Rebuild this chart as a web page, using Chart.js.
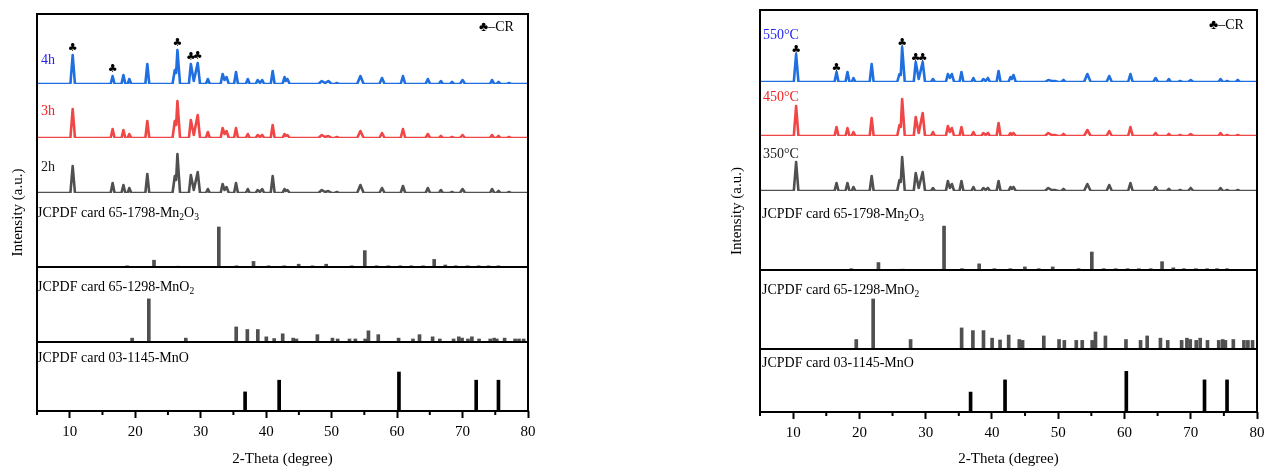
<!DOCTYPE html>
<html>
<head>
<meta charset="utf-8">
<script src="https://cdn.jsdelivr.net/npm/chart.js@4/dist/chart.umd.min.js"></script>
<style>
html,body{margin:0;padding:0;overflow:hidden;background:#fff;width:1264px;height:469px;}
#wrapL{position:absolute;left:0;top:0;width:545px;height:469px;}
#wrapR{position:absolute;left:720px;top:0;width:560px;height:469px;}
</style>
</head>
<body>
<div id="wrapL"><canvas id="cL" width="545" height="469"></canvas></div>
<div id="wrapR"><canvas id="cR" width="560" height="469"></canvas></div>
<script>
// ---------- DATA ----------
const theta = [
  5.0,
  10.1, 10.45, 10.8,
  16.25, 16.55, 16.85,
  17.9, 18.2, 18.5,
  18.85, 19.1, 19.4,
  21.55, 21.85, 22.15,
  25.7, 26.05, 26.25, 26.45, 26.85,
  28.2, 28.5, 28.95, 29.55, 29.9,
  30.8, 31.1, 31.4,
  33.05, 33.35, 33.65, 33.95, 34.3,
  35.1, 35.4, 35.7,
  36.9, 37.2, 37.5,
  38.4, 38.7, 39.05, 39.4, 39.7,
  40.7, 41.0, 41.3,
  42.5, 42.8, 43.0, 43.25, 43.6,
  48.0, 48.5, 49.0, 49.5, 50.0,
  50.5, 50.8, 51.1,
  53.9, 54.4, 54.9,
  57.3, 57.7, 58.1,
  60.55, 60.9, 61.25,
  64.35, 64.7, 65.05,
  66.4, 66.7, 67.0,
  68.1, 68.4, 68.7,
  69.6, 70.0, 70.4,
  74.2, 74.5, 74.85,
  75.2, 75.5, 75.8,
  76.8, 77.1, 77.4,
  80.0
];
const int4h = [
  0,
  0, 29, 0,
  0, 8, 0,
  0, 9, 0,
  0, 5, 0,
  0, 20, 0,
  0, 14, 11, 34, 0,
  0, 20, 3, 21, 0,
  0, 5, 0,
  0, 10, 4, 7, 0,
  0, 12, 0,
  0, 5, 0,
  0, 4, 1, 4, 0,
  0, 13, 0,
  0, 7, 3, 5, 0,
  0, 3, 1, 3, 0,
  0, 1, 0,
  0, 8, 0,
  0, 6, 0,
  0, 8, 0,
  0, 5, 0,
  0, 3, 0,
  0, 2, 0,
  0, 4, 0,
  0, 4, 0,
  0, 2, 0,
  0, 1, 0,
  0
];
const int3h = [
  0,
  0, 29, 0,
  0, 9, 0,
  0, 8, 0,
  0, 4, 0,
  0, 17, 0,
  0, 17, 13, 37, 0,
  0, 18, 3, 23, 0,
  0, 6, 0,
  0, 10, 4, 7, 0,
  0, 10, 0,
  0, 4, 0,
  0, 3, 1, 3, 0,
  0, 13, 0,
  0, 4, 2, 3, 0,
  0, 3, 1, 2, 0,
  0, 1, 0,
  0, 7, 0,
  0, 5, 0,
  0, 9, 0,
  0, 4, 0,
  0, 2, 0,
  0, 1, 0,
  0, 3, 0,
  0, 3, 0,
  0, 2, 0,
  0, 1, 0,
  0
];
const int2h = [
  0,
  0, 27, 0,
  0, 10, 0,
  0, 8, 0,
  0, 5, 0,
  0, 19, 0,
  0, 17, 13, 39, 0,
  0, 18, 3, 21, 0,
  0, 4, 0,
  0, 9, 3, 6, 0,
  0, 10, 0,
  0, 4, 0,
  0, 3, 1, 4, 0,
  0, 17, 0,
  0, 4, 2, 3, 0,
  0, 3, 1, 2, 0,
  0, 1, 0,
  0, 8, 0,
  0, 5, 0,
  0, 7, 0,
  0, 5, 0,
  0, 3, 0,
  0, 1, 0,
  0, 4, 0,
  0, 4, 0,
  0, 2, 0,
  0, 1, 0,
  0
];
const int550 = [
  0,
  0, 28, 0,
  0, 10, 0,
  0, 10, 0,
  0, 4, 0,
  0, 18, 0,
  0, 8, 7, 35, 0,
  0, 20, 3, 20, 0,
  0, 3, 0,
  0, 8, 4, 8, 0,
  0, 10, 0,
  0, 4, 0,
  0, 3, 1, 4, 0,
  0, 11, 0,
  0, 5, 3, 7, 0,
  0, 2, 1, 1, 0,
  0, 2, 0,
  0, 8, 0,
  0, 6, 0,
  0, 8, 0,
  0, 4, 0,
  0, 3, 0,
  0, 1, 0,
  0, 2, 0,
  0, 3, 0,
  0, 1, 0,
  0, 2, 0,
  0
];
const int450 = [
  0,
  0, 30, 0,
  0, 9, 0,
  0, 8, 0,
  0, 4, 0,
  0, 18, 0,
  0, 11, 9, 37, 0,
  0, 19, 3, 23, 0,
  0, 4, 0,
  0, 10, 4, 8, 0,
  0, 9, 0,
  0, 4, 0,
  0, 3, 1, 3, 0,
  0, 13, 0,
  0, 3, 1, 3, 0,
  0, 3, 1, 1, 0,
  0, 2, 0,
  0, 6, 0,
  0, 5, 0,
  0, 9, 0,
  0, 3, 0,
  0, 2, 0,
  0, 1, 0,
  0, 2, 0,
  0, 3, 0,
  0, 1, 0,
  0, 1, 0,
  0
];
const int350 = [
  0,
  0, 29, 0,
  0, 8, 0,
  0, 8, 0,
  0, 4, 0,
  0, 15, 0,
  0, 11, 9, 34, 0,
  0, 18, 3, 19, 0,
  0, 3, 0,
  0, 10, 3, 7, 0,
  0, 10, 0,
  0, 4, 0,
  0, 3, 1, 3, 0,
  0, 10, 0,
  0, 4, 2, 4, 0,
  0, 3, 1, 1, 0,
  0, 2, 0,
  0, 7, 0,
  0, 6, 0,
  0, 8, 0,
  0, 4, 0,
  0, 2, 0,
  0, 1, 0,
  0, 3, 0,
  0, 3, 0,
  0, 1, 0,
  0, 1, 0,
  0
];
const seriesLeft = ['4h', '3h', '2h'];
const seriesRight = ['550°C', '450°C', '350°C'];

// reference cards (2-theta, relative intensity %)
const mn2o3Theta = [19.0, 23.1, 26.8, 33.0, 35.7, 38.3, 40.6, 43.0, 45.2, 47.3, 49.4, 53.3, 55.3, 57.1, 58.9, 60.7, 62.4, 64.2, 65.9, 67.6, 69.2, 71.0, 72.7, 74.2, 75.7];
const mn2o3Int   = [3, 17, 2, 100, 3, 14, 3, 3, 7, 3, 7, 3, 41, 3, 3, 3, 3, 3, 19, 5, 3, 3, 3, 3, 3];
const mno2Theta  = [19.3, 21.85, 27.5, 35.2, 36.9, 38.5, 39.8, 41.0, 42.3, 43.9, 44.4, 47.6, 49.9, 50.7, 52.5, 53.4, 54.9, 55.4, 56.9, 60.0, 62.2, 63.2, 65.2, 66.3, 68.4, 69.2, 69.7, 70.6, 71.2, 72.3, 74.0, 74.6, 75.0, 76.2, 77.8, 78.4, 79.1, 79.9];
const mno2Int    = [9, 100, 9, 35, 29, 29, 12, 8, 19, 9, 7, 17, 9, 7, 7, 7, 7, 26, 17, 9, 7, 17, 12, 7, 7, 12, 9, 7, 12, 7, 7, 9, 7, 9, 7, 7, 7, 7];
const mnoTheta   = [36.1, 41.3, 59.6, 71.4, 74.8];
const mnoInt     = [49, 79, 100, 79, 79];
const cardLabels = ['JCPDF card 65-1798-Mn_2O_3', 'JCPDF card 65-1298-MnO_2', 'JCPDF card 03-1145-MnO'];

const majorTicks = [10, 20, 30, 40, 50, 60, 70, 80];
const minorTicks = [5, 15, 25, 35, 45, 55, 65, 75];
const crPeaks = [10.45, 16.55, 26.45, 28.5, 29.55];
const crLegend = '♣–CR';
const yTitle = 'Intensity (a.u.)';
const xTitle = '2-Theta (degree)';

// ---------- RENDER ----------
const SERIF = '"Liberation Serif", "Times New Roman", serif';
const lineColors = ['#1f6fe0', '#f04646', '#505050'];
const labelColors = ['#2424ee', '#f02424', '#1a1a1a'];

function pairs(xs, ys) { return xs.map((x, i) => ({x: x, y: ys[i]})); }

function drawRich(ctx, str, x, y, size) {
  const parts = str.split(/(_\d)/).filter(Boolean);
  let cx = x;
  ctx.textAlign = 'left';
  ctx.textBaseline = 'middle';
  for (const p of parts) {
    if (p[0] === '_') {
      ctx.font = (size * 0.68) + 'px ' + SERIF;
      ctx.fillText(p.slice(1), cx, y + size * 0.32);
      cx += ctx.measureText(p.slice(1)).width;
    } else {
      ctx.font = size + 'px ' + SERIF;
      ctx.fillText(p, cx, y);
      cx += ctx.measureText(p).width;
    }
  }
}

function makeDecor(cfg) {
  return {
    id: 'decor',
    afterDraw(chart) {
      const {ctx, chartArea: a, scales} = chart;
      ctx.save();
      ctx.strokeStyle = '#000';
      ctx.fillStyle = '#000';
      ctx.lineWidth = 2;
      ctx.strokeRect(a.left, a.top, a.right - a.left, a.bottom - a.top);
      [scales.c0.bottom, scales.c1.bottom].forEach(yy => {
        ctx.beginPath(); ctx.moveTo(a.left, yy); ctx.lineTo(a.right, yy); ctx.stroke();
      });
      // minor ticks
      minorTicks.forEach(v => {
        const x = scales.x.getPixelForValue(v);
        ctx.beginPath(); ctx.moveTo(x, a.bottom); ctx.lineTo(x, a.bottom + 4); ctx.stroke();
      });
      // series labels
      ctx.textAlign = 'left'; ctx.textBaseline = 'middle';
      ctx.font = '14px ' + SERIF;
      cfg.names.forEach((n, i) => {
        ctx.fillStyle = labelColors[i];
        ctx.fillText(n, cfg.labelPos[i][0], cfg.labelPos[i][1]);
      });
      // card labels
      ctx.fillStyle = '#000';
      ['c0', 'c1', 'c2'].forEach((id, i) => {
        drawRich(ctx, cardLabels[i], cfg.cardLabelX, scales[id].top + cfg.cardLabelDy[i], 14);
      });
      // legend
      ctx.font = '14px ' + SERIF;
      ctx.textAlign = 'left'; ctx.textBaseline = 'middle';
      ctx.fillText(crLegend, cfg.legendPos[0], cfg.legendPos[1]);
      // club markers on top pattern
      ctx.font = '11px "DejaVu Sans"';
      ctx.textAlign = 'center'; ctx.textBaseline = 'middle';
      crPeaks.forEach(t => {
        const idx = theta.indexOf(t);
        const x = scales.x.getPixelForValue(t);
        const y = scales.s0.getPixelForValue(cfg.series[0][idx]) - cfg.clubDy;
        ctx.fillText('♣', x, y);
      });
      // y title
      ctx.save();
      ctx.translate(cfg.yTitleX, (a.top + a.bottom) / 2);
      ctx.rotate(-Math.PI / 2);
      ctx.font = '15px ' + SERIF;
      ctx.textAlign = 'center'; ctx.textBaseline = 'middle';
      ctx.fillText(yTitle, 0, 0);
      ctx.restore();
      ctx.restore();
    }
  };
}

function makePanel(id, cfg) {
  const datasets = [];
  cfg.series.forEach((s, i) => {
    datasets.push({
      type: 'line', label: cfg.names[i], data: pairs(theta, s),
      xAxisID: 'x', yAxisID: 's' + i,
      borderColor: lineColors[i], borderWidth: 2.6, borderJoinStyle: 'round',
      pointRadius: 0, tension: 0, fill: false
    });
  });
  const cards = [[mn2o3Theta, mn2o3Int, '#505050'], [mno2Theta, mno2Int, '#505050'], [mnoTheta, mnoInt, '#000000']];
  cards.forEach((c, i) => {
    datasets.push({
      type: 'bar', label: cardLabels[i], data: pairs(c[0], c[1]),
      xAxisID: 'xc' + i, yAxisID: 'c' + i,
      backgroundColor: c[2], borderWidth: 0, barThickness: 3,
      base: cfg.cardMin[i]
    });
  });
  const scales = {
    x: {
      type: 'linear', position: 'bottom', min: 5, max: 80, offset: false,
      afterBuildTicks: (s) => { s.ticks = majorTicks.map(v => ({value: v})); },
      afterFit: (s) => { s.height = cfg.axisH; },
      ticks: {color: '#000', font: {family: SERIF, size: 15}, padding: 5, maxRotation: 0, autoSkip: false},
      grid: {display: true, drawOnChartArea: false, drawTicks: true, tickLength: 7, tickWidth: 2, tickColor: '#000', offset: false},
      border: {display: false},
      title: {display: true, text: xTitle, color: '#000', font: {family: SERIF, size: 15}, padding: {top: 0, bottom: 1}}
    }
  };
  ['xc0', 'xc1', 'xc2'].forEach(k => {
    scales[k] = {type: 'linear', position: 'bottom', min: 5, max: 80, offset: false, grid: {offset: false}, display: false};
  });
  const ids = ['s0', 's1', 's2', 'c0', 'c1', 'c2'];
  const maxes = [cfg.bands[0], cfg.bands[1], cfg.bands[2]].concat(cfg.cardMax);
  const mins = [0, 0, 0].concat(cfg.cardMin);
  ids.forEach((k, i) => {
    scales[k] = {
      type: 'linear', position: 'left', stack: 'panel', stackWeight: cfg.bands[i],
      weight: 10 - i, min: mins[i], max: maxes[i], display: false
    };
  });
  return new Chart(document.getElementById(id), {
    type: 'line',
    data: {datasets},
    options: {
      responsive: false, animation: false, devicePixelRatio: 1,
      layout: {padding: cfg.pad},
      plugins: {legend: {display: false}, tooltip: {enabled: false}},
      scales
    },
    plugins: [makeDecor(cfg)]
  });
}

makePanel('cL', {
  pad: {left: 37, right: 17, top: 14, bottom: 0},
  axisH: 58,
  bands: [70, 54, 55, 74, 75, 69],
  cardMax: [185, 174, 177], cardMin: [0, 0, 0],
  series: [int4h, int3h, int2h], names: seriesLeft,
  labelPos: [[41, 60], [41, 111], [41, 167]],
  cardLabelX: 37, cardLabelDy: [20, 20, 16],
  clubDy: 7, legendPos: [479, 27], yTitleX: 18
});
makePanel('cR', {
  pad: {left: 40, right: 23, top: 10, bottom: 0},
  axisH: 57,
  bands: [72, 54, 55, 79, 79, 63],
  cardMax: [180, 165, 155], cardMin: [0, -12.3, 0],
  series: [int550, int450, int350], names: seriesRight,
  labelPos: [[43, 35], [43, 97], [43, 154]],
  cardLabelX: 42, cardLabelDy: [23, 20, 14],
  clubDy: 3.5, legendPos: [489, 25], yTitleX: 17
});
</script>
</body>
</html>
